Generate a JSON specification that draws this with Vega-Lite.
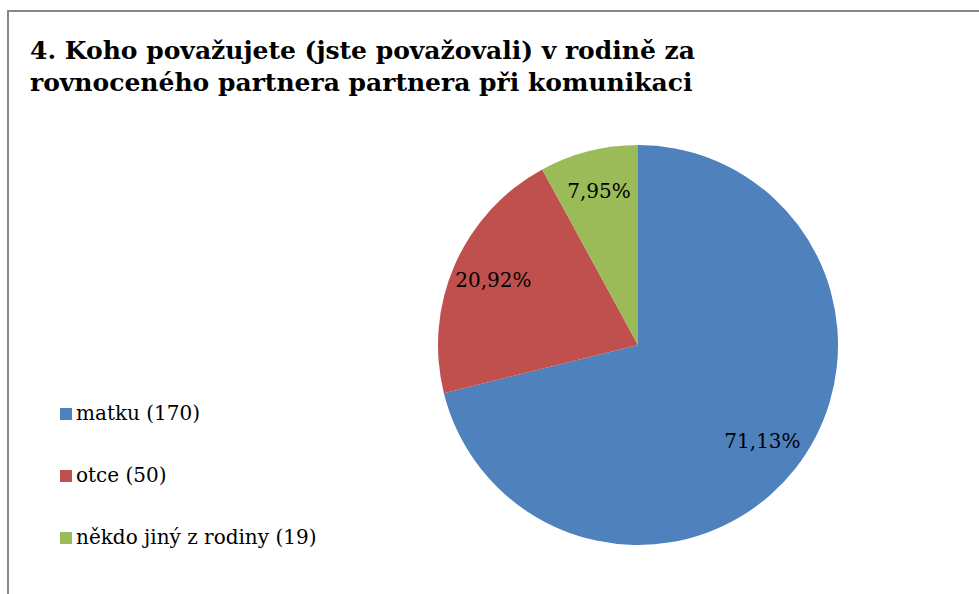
{
  "$schema": "https://vega.github.io/schema/vega-lite/v6.json",
  "width": 979,
  "height": 594,
  "autosize": {"type": "fit", "contains": "padding"},
  "padding": {"left": 8, "top": 11, "right": -5, "bottom": -5},
  "background": "white",
  "config": {
    "view": {"stroke": "#878787", "strokeWidth": 2},
    "font": "DejaVu Serif",
    "locale": {"number": {"decimal": ",", "thousands": " ", "grouping": [3], "currency": ["", " Kč"]}}
  },
  "title": {
    "text": ["4. Koho považujete (jste považovali) v rodině za", "rovnoceného partnera partnera při komunikaci"],
    "anchor": "start",
    "frame": "group",
    "orient": "top",
    "font": "DejaVu Serif",
    "fontSize": 25,
    "fontWeight": "bold",
    "color": "#000000",
    "lineHeight": 32,
    "offset": -85,
    "dx": 22
  },
  "data": {
    "values": [
      {"kategorie": "matku (170)", "pocet": 170, "podil": 0.7113, "poradi": 1},
      {"kategorie": "otce (50)", "pocet": 50, "podil": 0.2092, "poradi": 2},
      {"kategorie": "někdo jiný z rodiny (19)", "pocet": 19, "podil": 0.0795, "poradi": 3}
    ]
  },
  "encoding": {
    "theta": {"field": "pocet", "type": "quantitative", "stack": true},
    "order": {"field": "poradi", "type": "quantitative"},
    "x": {"datum": 0.6455, "type": "quantitative", "scale": {"domain": [0, 1]}, "axis": null},
    "y": {"datum": 0.568, "type": "quantitative", "scale": {"domain": [0, 1], "reverse": true}, "axis": null}
  },
  "layer": [
    {
      "mark": {"type": "arc", "outerRadius": 200},
      "encoding": {
        "color": {
          "field": "kategorie",
          "type": "nominal",
          "scale": {
            "domain": ["matku (170)", "otce (50)", "někdo jiný z rodiny (19)"],
            "range": ["#4F81BD", "#C0504D", "#9BBB59"]
          },
          "legend": {
            "title": null,
            "orient": "none",
            "legendX": 48,
            "legendY": 393,
            "direction": "vertical",
            "symbolType": "square",
            "symbolSize": 144,
            "symbolStrokeWidth": 0,
            "symbolOpacity": 1,
            "labelFont": "DejaVu Serif",
            "labelFontSize": 20,
            "labelColor": "#000000",
            "labelOffset": 0,
            "labelLimit": 400,
            "rowPadding": 42,
            "padding": 0
          }
        }
      }
    },
    {
      "mark": {"type": "text", "radius": 158, "fontSize": 20, "font": "DejaVu Serif", "color": "#000000", "baseline": "middle", "align": "center"},
      "encoding": {
        "text": {"field": "podil", "type": "quantitative", "format": ".2%"}
      }
    }
  ]
}
